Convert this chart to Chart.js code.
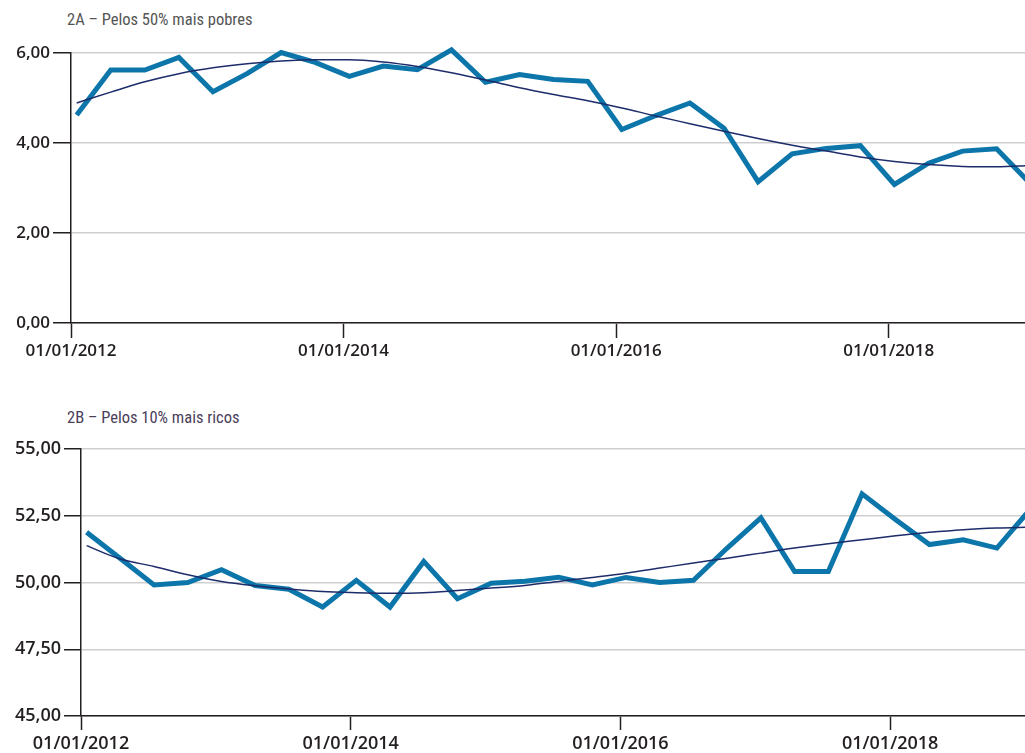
<!DOCTYPE html>
<html>
<head>
<meta charset="utf-8">
<script src="https://cdn.jsdelivr.net/npm/chart.js@4.4.1/dist/chart.umd.min.js"></script>
<style>
  body { margin: 0; background: #fff; width: 1025px; height: 753px; overflow: hidden; position: relative; }
  .titulo { position: absolute; left: 67px; font-family: 'Liberation Sans Narrow', 'Roboto Condensed', 'Roboto', sans-serif; font-size: 16.5px; white-space: nowrap; }
  #tA { top: 10px; color: #555; }
  #tB { top: 408px; color: #4b3e5a; }
  .box { position: absolute; left: 0; width: 1025px; }
  #boxA { top: 0; height: 372px; }
  #boxB { top: 400px; height: 353px; }
</style>
</head>
<body>
<div class="titulo" id="tA">2A – Pelos 50% mais pobres</div>
<div class="titulo" id="tB">2B – Pelos 10% mais ricos</div>
<div class="box" id="boxA"><canvas id="chartA" width="1025" height="372"></canvas></div>
<div class="box" id="boxB"><canvas id="chartB" width="1025" height="353"></canvas></div>
<script>
// trimestres 2012T1 .. 2019T1
const trimestres = ['2012T1','2012T2','2012T3','2012T4','2013T1','2013T2','2013T3','2013T4',
  '2014T1','2014T2','2014T3','2014T4','2015T1','2015T2','2015T3','2015T4',
  '2016T1','2016T2','2016T3','2016T4','2017T1','2017T2','2017T3','2017T4',
  '2018T1','2018T2','2018T3','2018T4','2019T1'];

// 2A - 50% mais pobres
const pobres = [4.62, 5.62, 5.62, 5.90, 5.14, 5.54, 6.01, 5.79, 5.48, 5.71, 5.63, 6.07, 5.35, 5.52, 5.41,
  5.37, 4.30, 4.61, 4.89, 4.33, 3.14, 3.76, 3.88, 3.94, 3.08, 3.55, 3.82, 3.87, 3.09];
const tendPobres = [4.89, 5.13, 5.36, 5.54, 5.67, 5.76, 5.82, 5.85, 5.85, 5.80, 5.70, 5.56, 5.40, 5.23, 5.08,
  4.94, 4.78, 4.60, 4.43, 4.26, 4.10, 3.95, 3.82, 3.69, 3.59, 3.52, 3.48, 3.47, 3.50];

// 2B - 10% mais ricos
const ricos = [51.88, 50.90, 49.91, 50.00, 50.48, 49.89, 49.75, 49.08, 50.08, 49.08, 50.79, 49.39, 49.97, 50.05, 50.20,
  49.91, 50.19, 50.00, 50.08, 51.29, 52.42, 50.41, 50.41, 53.32, 52.35, 51.42, 51.60, 51.29, 52.76];
const tendRicos = [51.38, 50.88, 50.60, 50.29, 50.04, 49.88, 49.76, 49.66, 49.62, 49.60, 49.62, 49.70, 49.79, 49.89, 50.04,
  50.19, 50.35, 50.54, 50.73, 50.91, 51.10, 51.29, 51.45, 51.60, 51.75, 51.88, 51.98, 52.04, 52.07];

const xTicks = [0, 24, 48, 72]; // meses desde jan/2012
const xTickLabels = ['01/01/2012', '01/01/2014', '01/01/2016', '01/01/2018'];
const yTicksA = [0, 2, 4, 6];
const yTickLabelsA = ['0,00', '2,00', '4,00', '6,00'];
const yTicksB = [45, 47.5, 50, 52.5, 55];
const yTickLabelsB = ['45,00', '47,50', '50,00', '52,50', '55,00'];

// meio do primeiro mes de cada trimestre
function mes(i) { return i * 3 + 0.5; }
function pontos(vals) { return vals.map((v, i) => ({ x: mes(i), y: v })); }

function montar(id, serie, tend, yMin, yMax, yTicks, yLabels, cfg) {
  const ctx = document.getElementById(id).getContext('2d');
  return new Chart(ctx, {
    type: 'line',
    data: {
      labels: trimestres,
      datasets: [
        {
          label: 'tendencia',
          data: pontos(tend),
          borderColor: '#1d2c6b',
          borderWidth: 1.5,
          pointRadius: 0,
          cubicInterpolationMode: 'monotone',
          clip: false,
          order: 1,
        },
        {
          label: 'serie',
          data: pontos(serie),
          borderColor: '#0c75a9',
          borderWidth: 5,
          borderJoinStyle: 'miter',
          pointRadius: 0,
          tension: 0,
          clip: false,
          order: 2,
        },
      ],
    },
    options: {
      responsive: false,
      animation: false,
      layout: { padding: { top: cfg.top, right: 0, left: 0, bottom: 0 } },
      plugins: { legend: { display: false }, title: { display: false }, tooltip: { enabled: false } },
      scales: {
        x: {
          type: 'linear',
          min: 0,
          max: 84,
          afterBuildTicks: (s) => { s.ticks = xTicks.map(v => ({ value: v })); },
          afterFit: (s) => { s.height = cfg.xh; },
          ticks: {
            callback: (v) => xTickLabels[xTicks.indexOf(v)],
            maxRotation: 0,
            autoSkip: false,
            padding: 3,
            color: '#231f20',
            font: { family: 'Open Sans', size: cfg.fs, weight: '600' },
          },
          grid: { drawOnChartArea: false, tickLength: cfg.xtl, tickColor: '#231f20', tickWidth: 1.5 },
          border: { color: '#231f20', width: 1.5 },
        },
        y: {
          min: yMin,
          max: yMax,
          afterBuildTicks: (s) => { s.ticks = yTicks.map(v => ({ value: v })); },
          afterFit: (s) => { s.width = cfg.yw; },
          ticks: {
            callback: (v) => yLabels[yTicks.indexOf(v)],
            padding: 3,
            color: '#231f20',
            font: { family: 'Open Sans', size: cfg.fs, weight: '600' },
          },
          grid: { color: '#cfcfcf', lineWidth: 1.5, tickLength: cfg.ytl, tickColor: '#231f20', tickWidth: 1.5 },
          border: { color: '#231f20', width: 1.5 },
        },
      },
    },
  });
}

montar('chartA', pobres, tendPobres, 0, 6, yTicksA, yTickLabelsA, { top: 53, xh: 49, yw: 71, fs: 17, xtl: 15, ytl: 18 });
montar('chartB', ricos, tendRicos, 45, 55, yTicksB, yTickLabelsB, { top: 49, xh: 37, yw: 81, fs: 18, xtl: 14, ytl: 17 });
</script>
</body>
</html>
